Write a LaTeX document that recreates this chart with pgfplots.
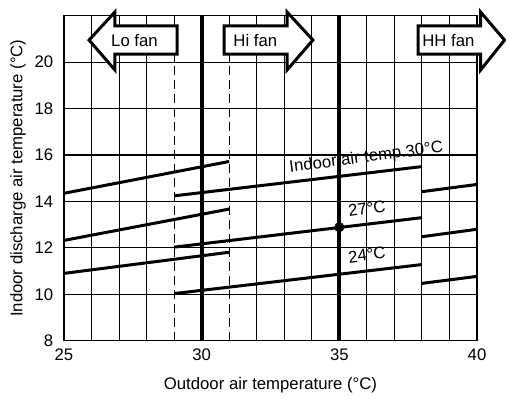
\documentclass[border=0pt]{standalone}
\usepackage{fontspec}
\setmainfont{Liberation Sans}
\usepackage{pgfplots}
\pgfplotsset{compat=1.18}
\begin{document}
\fontsize{16.8}{19}\selectfont
\begin{tikzpicture}
\begin{axis}[
 width=413bp, height=325bp, scale only axis,
 xmin=25, xmax=40, ymin=8, ymax=22,
 xtick={25,30,35,40}, ytick={8,10,...,20},
 minor xtick={26,27,28,32,33,34,36,37,38,39},
 grid=both,
 major grid style={black, line width=1.1bp},
 minor grid style={black, line width=1.1bp},
 axis line style={black, line width=1.3bp},
 tick style={draw=none},
 /pgf/number format/assume math mode=true,
 tick label style={font=\fontsize{16.8}{19}\selectfont},
 label style={font=\fontsize{16.8}{19}\selectfont},
 xticklabel style={yshift=-2bp},
 yticklabel style={xshift=-5bp},
 xlabel={Outdoor air temperature (°C)},
 ylabel={Indoor discharge air temperature (°C)},
 xlabel style={at={(axis description cs:0.5,-0.138)}, anchor=center},
 ylabel style={at={(axis description cs:-0.111,0.5)}, anchor=center},
 clip=false,
]
\coordinate (bl) at (rel axis cs:0,0);
\coordinate (tr) at (rel axis cs:1,1);
% dashed / split lines at 29 and 31
\addplot[black, line width=1.1bp, dash pattern=on 9bp off 5bp] coordinates {(29,8) (29,20)};
\addplot[black, line width=1.1bp, dash pattern=on 9bp off 5bp] coordinates {(31,8) (31,20)};
\addplot[black, line width=1.1bp] coordinates {(29,20) (29,22)};
\addplot[black, line width=1.1bp] coordinates {(31,20) (31,22)};
% thick lines
\addplot[black, line width=4bp] coordinates {(30,8) (30,22)};
\addplot[black, line width=4bp] coordinates {(35,8) (35,22)};
% Lo fan
\addplot[black, line width=3bp] coordinates {(25,14.35) (31,15.72)};
\addplot[black, line width=3bp] coordinates {(25,12.32) (31,13.67)};
\addplot[black, line width=3bp] coordinates {(25,10.9) (31,11.81)};
% Hi fan
\addplot[black, line width=3bp] coordinates {(29,14.24) (38,15.5)};
\addplot[black, line width=3bp] coordinates {(29,12.03) (38,13.3)};
\addplot[black, line width=3bp] coordinates {(29,10.03) (38,11.28)};
% HH fan
\addplot[black, line width=3bp] coordinates {(38,14.42) (40,14.73)};
\addplot[black, line width=3bp] coordinates {(38,12.48) (40,12.8)};
\addplot[black, line width=3bp] coordinates {(38,10.47) (40,10.77)};
% dot
\addplot[black, only marks, mark=*, mark size=4.8bp] coordinates {(35,12.89)};
% labels
\node[rotate=7.5] at (axis cs:35.98,15.87) {Indoor air temp.30°C};
\node[rotate=7.5] at (axis cs:36.0,13.7) {27°C};
\node[rotate=7.5] at (axis cs:36.0,11.69) {24°C};
% arrows
\draw[fill=white, line width=3bp, miter limit=10] (axis cs:29.11,21.56) -- (axis cs:26.85,21.56) -- (axis cs:26.85,22.16) -- (axis cs:25.91,20.95) -- (axis cs:26.85,19.66) -- (axis cs:26.85,20.35) -- (axis cs:29.11,20.35) -- cycle;
\node at (axis cs:27.56,20.92) {Lo fan};
\draw[fill=white, line width=3bp, miter limit=10] (axis cs:30.82,21.56) -- (axis cs:33.10,21.56) -- (axis cs:33.10,22.16) -- (axis cs:34.04,20.95) -- (axis cs:33.10,19.66) -- (axis cs:33.10,20.35) -- (axis cs:30.82,20.35) -- cycle;
\node at (axis cs:31.95,20.92) {Hi fan};
\draw[fill=white, line width=3bp, miter limit=10] (axis cs:37.86,21.56) -- (axis cs:40.13,21.56) -- (axis cs:40.13,22.16) -- (axis cs:41.0,20.95) -- (axis cs:40.13,19.66) -- (axis cs:40.13,20.35) -- (axis cs:37.86,20.35) -- cycle;
\node at (axis cs:38.96,20.92) {HH fan};
\end{axis}
\pgfresetboundingbox
\path[use as bounding box] ([xshift=-64bp,yshift=-58.3bp]bl) rectangle ([xshift=29bp,yshift=15.7bp]tr);
\end{tikzpicture}
\end{document}
